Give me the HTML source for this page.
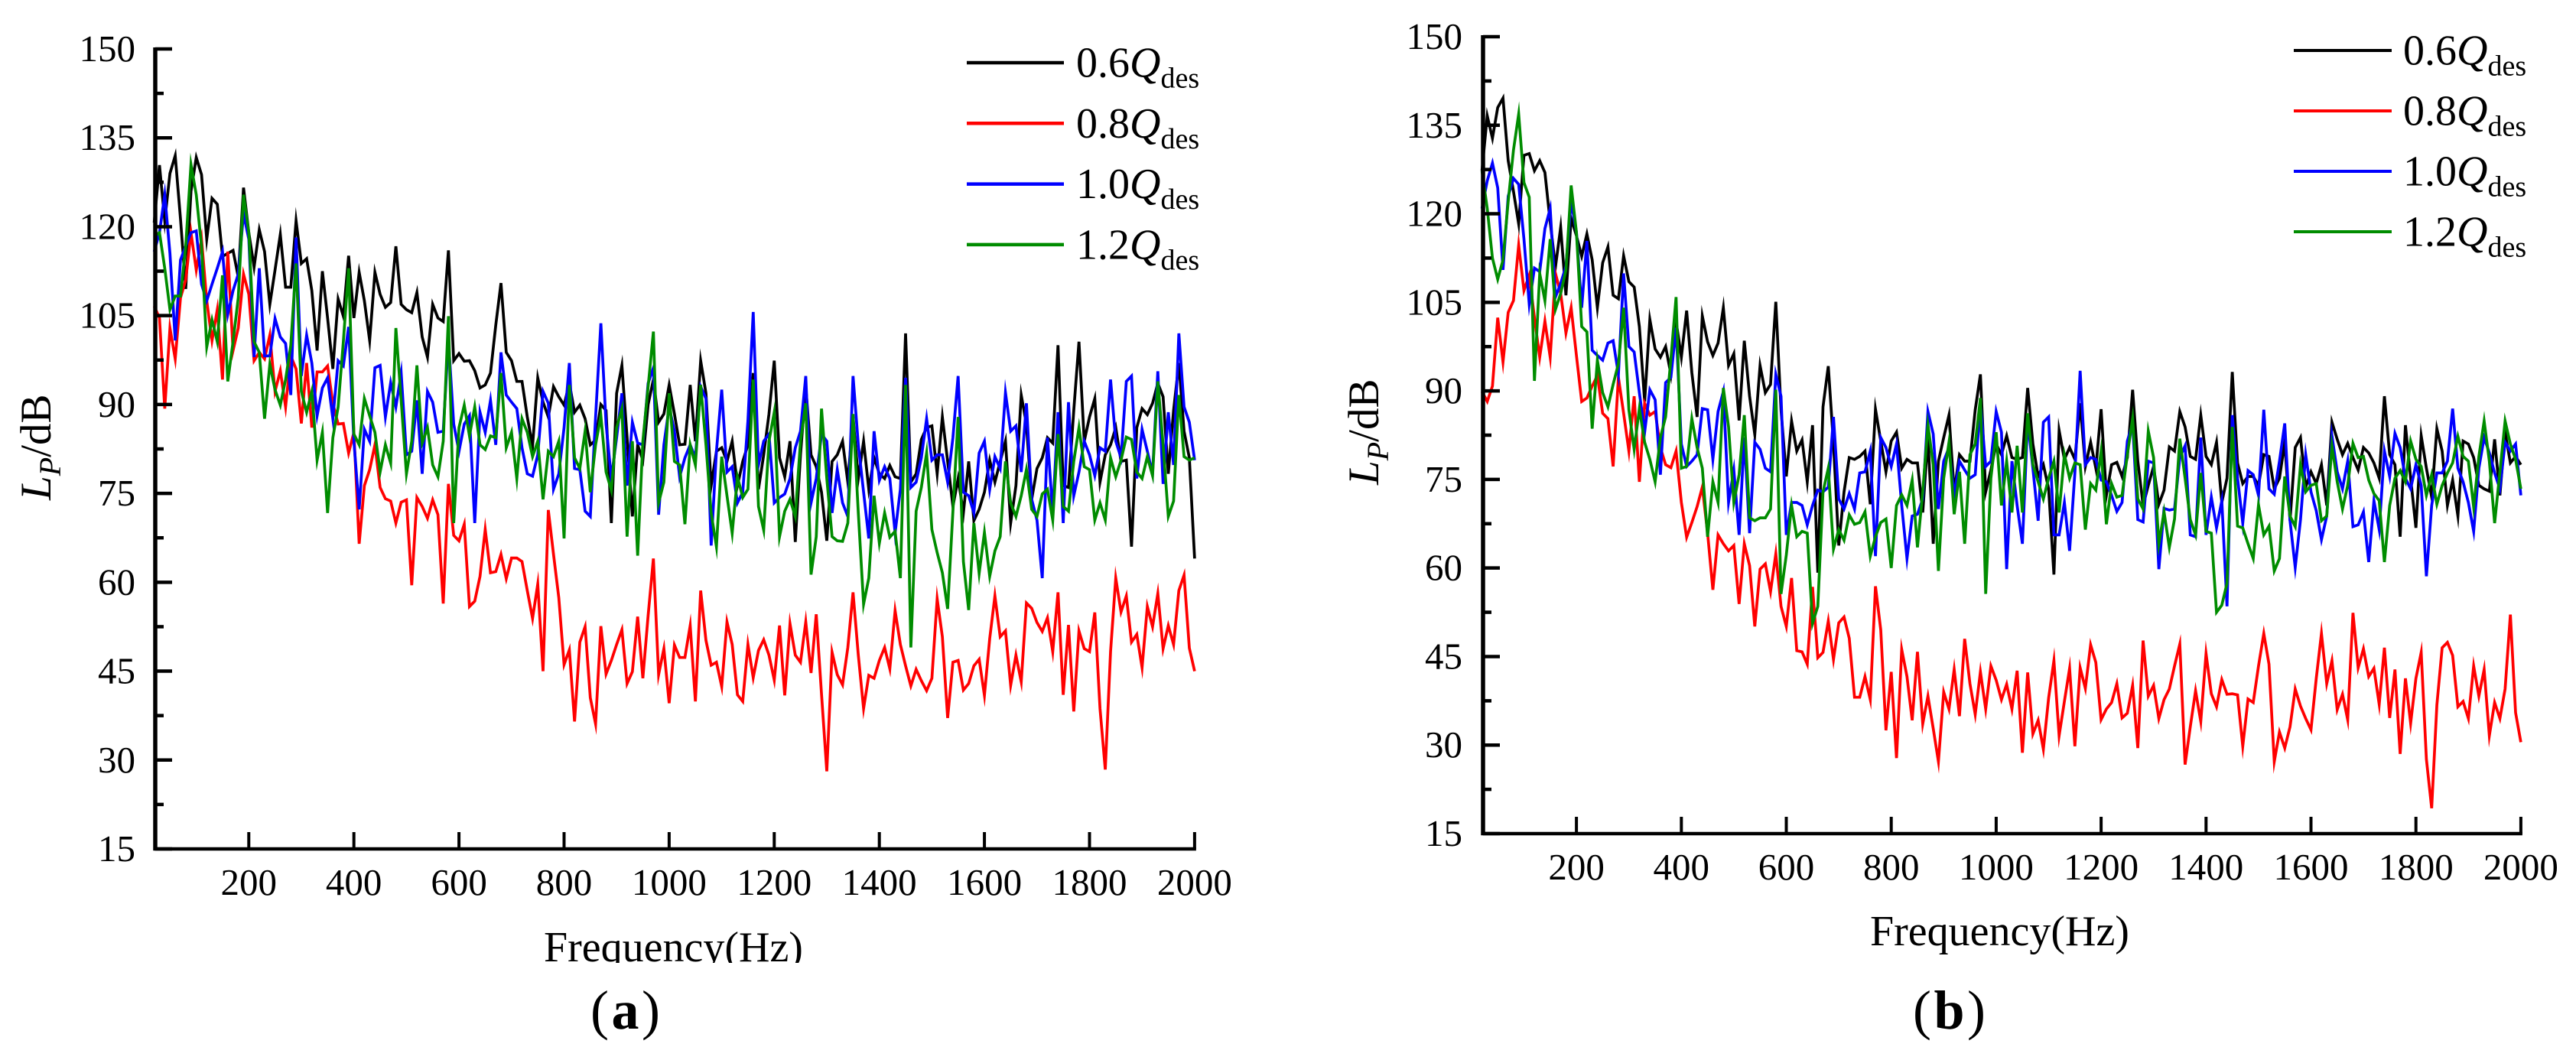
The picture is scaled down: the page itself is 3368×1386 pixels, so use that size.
<!DOCTYPE html>
<html lang="en">
<head>
<meta charset="utf-8">
<title>Sound pressure level spectra</title>
<style>
html,body{margin:0;padding:0;background:#fff;}
#figure{display:block;width:3368px;height:1386px;background:#fff;}
text{font-family:"Liberation Serif",serif;fill:#000;}
</style>
</head>
<body>
<svg id="figure" xmlns="http://www.w3.org/2000/svg" width="3368" height="1386" viewBox="0 0 3368 1386">
<defs><clipPath id="title-clip-a"><rect x="600" y="1190" width="600" height="69"></rect></clipPath></defs>
</svg>
<script>
// Shared axis data
const startFrequency = 20;
const frequencyStep = 10;
const endFrequency = 2000;
const xTickValues = [200,400,600,800,1000,1200,1400,1600,1800,2000];
const yTickValues = [15,30,45,60,75,90,105,120,135,150];
const yMinorTickValues = [22.5,37.5,52.5,67.5,82.5,97.5,112.5,127.5,142.5];
const seriesLabels = ["0.6","0.8","1.0","1.2"];
const seriesNames = ["0-6-qdes","0-8-qdes","1-0-qdes","1-2-qdes"];
const seriesColors = ["#000000","#ff0000","#0000ff","#008c00"];

// Panel (a) sound pressure level in dB
const a06 = [120.7,130.4,121,129,132,121.3,109.5,126,131.7,128.8,117.9,124.8,123.8,115,115.5,116,111.5,126.6,119,113.2,119.5,115.8,106.9,112.7,118.7,109.8,109.8,121,113.8,114.6,109.2,99.1,112.5,104.6,96,107.8,104.9,115.1,104.6,112.3,107.5,100.8,112.3,108.6,106.4,107.2,116.7,106.9,106,105.5,108.9,101.4,98,106.9,104.6,104,116,97.4,98.6,97.3,97.4,95.7,92.8,93.3,95.3,103.4,110.5,98.8,97.4,93.9,93.9,87.9,83,94.5,90.4,87.9,93,91.3,89.9,93.6,88.7,89.9,87.6,83.2,84,90,89,70,91.9,96.6,84.4,71.1,83.2,80.6,90,94.2,87,88.4,93.3,88.4,83.2,83.3,93.3,83.8,97.4,91.9,76.3,82.1,82.7,80.4,83.8,76.3,80.4,83.2,95.3,75.7,81.5,88.4,97.4,81,77.8,83.8,66.8,81.5,93,81.5,79.5,75.2,67,80.4,81.5,83.8,76.9,87.9,77.5,83.8,75.7,81,78.3,77.5,79.7,77.8,77.5,102,76.9,78.3,84.1,86.1,86.4,78.3,87.9,80.4,72.8,77.5,71.7,80.4,70.4,72.3,75.2,80.6,76.9,80.4,83.8,70,76.3,91.6,86.7,74,79.2,81,84.4,83.5,100,76.3,76,89,100.6,83.8,87.9,91,76.9,81.5,83.2,86.1,80.4,80.6,66,86.1,89.3,88.3,90.2,93.6,91.3,78.3,89,97,85.5,81,64];
const a08 = [106.6,104.6,89.3,102.9,97.7,108,111,119,112.7,117.9,107.5,100.8,106,94.2,115.8,99.1,102.9,112,108.6,97.4,98.8,97.7,101.7,92.2,95.7,89.6,98.2,96,86.8,97,86.1,95.5,95.5,96.5,90.2,86.7,86.8,81.8,85.3,66.5,76.3,79,83.2,76,74.1,73.7,70,73.5,73.9,59.5,74.3,72.8,70.8,73.9,71.4,56.4,76.6,67.9,67,69.8,55.9,56.8,61,68.9,61.6,61.8,64.7,60.6,64.1,64.1,63.5,58.6,53.9,59.7,45,72.2,64.7,57.4,46.1,48.6,36.5,49.9,52.5,40.5,36.1,52.6,44.5,46.8,49.5,52,42.9,44.9,54.2,43.8,54.4,64,44.4,48.8,39.6,49.4,47.3,47.3,52.7,39.9,58.6,50.2,46,46.5,42.4,53.3,49.5,41,39.9,49.5,43.9,48.5,50.3,47.7,43.5,52.7,40.9,53,47.7,46.5,53.3,44.7,54.6,41.1,28.1,48.2,44.4,42.7,49,58.3,47.7,38.7,44.3,43.8,46.8,49,45.4,55.2,49.5,45.9,42.5,45.3,43.4,41.7,43.8,57.2,50.8,37.1,46.5,46.8,41.8,42.9,45.9,47,40.9,50.5,57.7,50.8,51.8,42.6,47.7,43.2,56.5,55.6,53.2,51.7,54,48.3,58.3,41,52.8,38.2,51.8,48.8,48.3,54.9,38.7,28.4,48.3,60.7,55,57.7,49.9,51.2,45.6,55.9,52.5,58.1,48.8,52.7,49.5,58.6,61.2,48.9,45];
const a10 = [115.8,119,125.4,115.5,100.8,114.4,116.7,119,119.3,110.3,107.5,110.3,113,115.8,105.2,109.2,112,122.2,117.9,98,113,98.2,98.2,104.5,101.4,100.3,91.6,118.2,94.8,101.7,97,88.1,92.8,94.5,87.6,97.4,96.5,103.1,83.8,72.3,85.8,83.8,96.2,96.6,87.9,93.7,89.6,95.3,81.5,82.1,90.7,78.3,92.2,90.4,85.3,85.5,101,86.7,82.1,86.7,88.1,70,88.7,85.3,90.7,83.2,98.8,91.6,90.4,89.3,82.7,78.3,77.9,81.5,92.2,90.2,75.7,78.3,86.1,97,79.2,79,72,71.1,87.9,103.7,86.7,77.5,84.4,91.9,76.3,87,83.5,83.2,93.6,96.2,71.4,83.2,89.6,85.5,77.8,81,83.2,81,93,91,66.2,82.1,92.5,78.6,79.5,73.4,75.2,87.3,105.6,79.8,83.8,85,73.4,74.3,74.9,77.5,82.7,85.5,94.8,73.4,77.5,85,83.8,71.7,79,73.4,71.1,94.8,83.2,75.2,67.4,85.5,77.2,79.5,77.5,68.3,75.7,94.5,76,76.9,81,87.6,80.6,81.5,81.5,76.9,84.4,94.8,75.2,74.6,71.7,81.8,83.8,75.7,81.2,79.2,92,85.5,86.4,78.6,90.2,74,70.5,60.7,84.4,71.7,88.7,70,90.4,74.6,78.6,83.8,81.5,78,82.7,82.1,94.2,83.8,81,93.9,94.8,77.5,85.8,82.1,78.3,95.6,76.6,88.7,79.8,102,89.6,87,80.6];
const a12 = [118.4,119,113,106,108.3,108.3,116.7,130.5,125.4,116.7,99.7,104.3,100.6,111.8,93.9,100.6,108,125.4,119,100.6,98.8,87.6,96.8,92.5,89.9,94.2,100,113.8,92.2,88.7,92.2,80.6,85.3,71.7,84.4,89.6,100.6,113,85,83.2,91,88.1,85.3,78.6,83.2,80.1,102.9,90.7,78.3,83.8,96.6,83.5,86.1,79.8,77.8,83.8,104.9,70,86.1,89.9,84.7,89.6,83.2,82.4,84.7,84.4,95.3,82.7,85.3,77.5,87.6,85.3,81.2,83.8,74,82.1,81.2,83.8,67.4,93.3,81,79.2,85.5,75.2,83.2,88.1,78.6,75.5,86.1,89.3,67.7,83.8,64.5,83.8,93,102.3,73.4,76.9,91.9,80.4,79.8,69.8,83.2,79.8,93.3,83.2,71.7,66,81.2,74.6,68.3,77.8,74.3,75.7,94.2,72.8,68.8,83.8,88.7,67.7,72,74,71.1,83.8,90.2,61.3,67.7,89.3,77.5,67.7,67,66.9,70,88.4,71.7,56.3,60.7,74.6,66.6,71.7,67.6,68.6,60.7,93.3,49,72,76,81.8,68.9,65,61.6,55.5,72,87.9,63.5,55.3,70,61.5,68.4,61,65.3,67.7,80.4,73.4,71.1,74.6,79,72.3,71.1,74.9,75.7,70.5,85,72.8,72,80.4,86.1,79.5,79,70.5,73.4,70.5,81,77.8,80.6,84.5,84.1,78.6,77.5,81.2,78,93.9,83.2,71.1,73.7,91.6,81.2,80.6,81];

// Panel (b) sound pressure level in dB
const b06 = [127.3,136.6,132.8,138,139.6,129,123.8,118.3,129.9,130.2,127.3,129,127,118.6,111,117.7,106.2,119.2,116.3,112.8,116.6,112.2,104.1,111.7,114.4,106.2,105.6,112.9,108.5,107.6,100.9,88.2,102.1,97.1,95.7,97.5,92.8,101.8,95.7,103.6,93.1,85.6,102.7,98.3,96,98.1,104.1,94.3,96.3,85,98.5,89.1,82.6,94.3,89.7,91.1,105.1,86.8,75.5,84.9,79.8,81.7,74.6,84.2,59.2,87.3,94.2,81,63.8,72.9,78.7,78.4,78.9,79.8,70.8,86.9,81.5,76.3,81.5,83,76.9,78.4,77.8,77.8,69.4,82.1,64.1,78.1,82.1,85.9,72.9,79.2,78.1,78.1,86.8,92.8,72.9,76.6,81,79.2,82.4,78.7,78.4,78.7,90.5,81,75.5,77.5,73.4,58.9,83.3,78.4,80.4,78.4,87.9,77.2,81.3,76.9,86.9,72.3,77.5,77.9,75.5,78.7,90.2,78.1,70.6,74,77.2,70.8,73.2,80.5,79.8,86.5,83.9,78.9,78.4,85.9,78.9,77.5,81.3,71.1,75.2,93.2,77.8,74.3,75.5,75.5,74,79.2,78.9,73.4,75.2,81.3,68,80.4,82.1,73.7,76.3,74.3,77.5,70.6,84.7,81.8,79.2,81.1,78.7,76.6,80.4,79.5,77.8,75.2,89.1,79.2,77.5,65.3,84.2,75.2,66.8,82.4,76.9,72,83.6,79.8,70.6,74.9,68.8,81.5,81,78.7,74,73.4,73,81.8,72.3,83,77.8,78.9,77.5];
const b08 = [89.9,88.2,90.8,102.4,94.9,103.3,105.3,114.7,107,109.6,102.4,95.7,101.8,95.7,109.9,106.5,99.8,104.1,96,88.2,88.8,90.8,92.6,86.2,85.3,77.2,92.3,86.2,79.8,89.1,74.6,87.9,85.9,86.5,80.4,77.5,77,79.8,71.1,65.2,67.7,70.4,73.7,65.9,56.3,65.6,64.1,62.9,63.8,53.9,64.1,60.4,50.1,59.8,60.7,56,62.4,53.5,50.1,58.3,46,45.8,43.7,56.8,44.8,45.7,51,44.5,50.7,51.7,48.1,38.1,38.1,41.6,37.7,56.9,49.5,32.5,42.4,27.8,46.2,41.6,34.2,45.8,33.6,38.3,32.8,27.2,39,36.1,42.8,34.9,48,40.4,35.2,42.4,36.1,43.4,41,37.7,40.3,36.1,42.6,28.7,42.3,31.9,34.2,29.3,38,44.3,31.6,37.4,43,29.8,43.1,39.6,47,44,34.3,36.1,37.2,40.4,34.6,35.4,40.1,29.5,47.7,38.3,40.1,34.5,37.7,39.5,43.4,47.1,26.7,33.1,39.2,34,45.5,38.7,36.5,41.1,38.6,38.7,38.5,29.8,37.8,37.2,43.4,48.9,43.7,27.2,32.2,29.5,33.1,39.5,36.6,34.5,32.6,41.3,48.9,40.4,44.3,36,38.6,34.3,52.4,43.1,46.3,41.6,43,36.9,46.5,34.6,42.8,28.5,41.3,33.7,41.3,45.7,27.6,19.3,36.8,46.5,47.4,45.2,36.5,37.4,34.5,43.4,38.3,42.8,31.6,37.2,34.5,39.5,52.1,35.5,30.5];
const b10 = [120.9,125.6,128.6,124.4,110.5,123,126,125,115.7,104.7,110.8,110.2,117.5,120.9,105.9,108.2,111.1,122.1,116.9,104.1,115.4,96.9,96,95.2,98.1,98.5,92.8,109.9,97.5,96.6,89.7,83,90.2,88.5,75.8,91.4,92.3,100.7,81,77.2,78.1,79.2,87,86.8,78.4,86.5,89.9,71.1,76.6,65.6,82.1,65.9,81.3,80.1,76.9,76.3,92.8,89.1,65.6,71.1,71.1,70.6,67.3,70.6,73.2,72.9,73.7,85.6,71.7,70,72.6,70,76.1,76.3,79.8,62,82.1,80.4,77.2,81,70.6,61.6,68.8,69.1,71.7,86.5,82.7,70,78.1,80.4,72.3,78.1,76.6,75.2,75.8,87.9,77.2,78.1,86.5,83,59.8,78.1,70.6,64.1,85,76.9,68,84.7,85.6,65.6,65.6,71.1,62.9,76.1,93.4,77.5,78.7,78.4,74.9,74.6,72.3,69.6,71.1,81.5,84.5,68.2,67.8,78.1,77.8,59.8,70.1,69.8,70,78.7,80.7,65.6,65.3,82.1,65.6,72,66.8,71.4,53.5,85.9,75.2,67.6,76.5,75.8,72.3,86.8,73.4,72.5,78.1,84.5,68,60.1,68.2,79.2,72.9,69.7,64.8,68.8,82.4,76.3,73.4,78.1,67,67.3,69.5,61,71.4,66.5,79.8,75.5,82.8,80.4,75.2,73.4,77.5,74,58.6,70.6,76.1,76.1,78.1,87,76.9,74.6,71.1,66.2,76.9,82.1,79.5,76.1,73.4,81.3,79.8,81,72.3];
const b12 = [127.3,120.9,112.5,108.9,112.2,122.1,130.8,136.9,125.3,122.8,91.7,109.9,105.3,115.7,103.8,106.5,110.5,124.8,116.9,100.9,100,83.6,95.2,89.7,87.3,91.1,94.6,104.1,86.8,80.1,87,81.3,78.4,74.6,82.1,85.6,95.4,105.9,76.9,77.2,85.3,80.4,76.9,65.3,74.6,71.1,90.5,83.9,71.1,75.8,85.9,68.5,68,68.5,68.5,70,90.2,55.6,62.2,70.6,65.3,66.2,65.9,50.6,53.5,72.9,76.9,63.2,66.5,64.7,69,67.4,67.7,69.5,62,65.3,67.7,68.3,60,70.6,72.4,70.6,74.9,63.5,72.9,84.2,77.5,59.5,75.2,81.3,69.1,76.3,64.1,79.2,81,88.8,55.6,75.2,83,70.6,78.1,69.4,80.7,69.4,86.2,77.5,74.6,71.7,75.2,78.1,69.4,79.2,75.2,77.8,77.5,66.5,74.3,73.2,79.8,67.4,74.3,72,72.3,79.2,85.3,71.7,70,83.2,78.7,64.1,69.5,63.5,68.3,81.9,75.2,68.2,65.6,76.1,66.2,65.9,52.5,53.7,57.4,83.9,67.1,66.8,64.1,61.6,70.7,65.6,67.1,59.5,61.6,75.5,68.8,67,77.5,72.9,74,74.3,68,68.8,80.7,74.6,70,74,81.1,78.7,78.9,74.9,72.6,71.4,61,70.6,75.2,76.5,74.6,81.5,78.4,77.2,72.3,75.8,70.8,74,76.1,77.8,82.3,78.9,78.1,70.3,78.9,84.9,78.1,67.6,76.3,84.9,81,78.4,73.4];

const SVG_NS = "http://www.w3.org/2000/svg";
const figure = document.getElementById("figure");

function makeNode(tag, attrs, parent) {
  const node = document.createElementNS(SVG_NS, tag);
  for (const key in attrs) node.setAttribute(key, attrs[key]);
  parent.appendChild(node);
  return node;
}
function addSpan(parent, content, attrs) {
  const span = makeNode("tspan", attrs, parent);
  span.textContent = content;
  return span;
}

function drawPanel(panel) {
  const group = makeNode("g", {}, figure);
  
  

  const xScale = f => panel.left + (f - panel.xAt) * panel.pxPerHz;
  const yScale = v => panel.bottom - (v - 15) * (panel.bottom - panel.top) / 135;

  // series
  [panel.series[0], panel.series[1], panel.series[2], panel.series[3]].forEach((values, s) => {
    const points = values.map((v, i) => xScale(startFrequency + i * frequencyStep).toFixed(1) + "," + yScale(v).toFixed(1)).join(" ");
    const line = makeNode("polyline", {points: points, fill: "none", stroke: seriesColors[s], "stroke-width": 3.7, "stroke-linejoin": "miter", "stroke-miterlimit": 10}, group);
    
    
  });

  // axis lines
  const xEnd = xScale(endFrequency);
  const yAxis = makeNode("line", {x1: panel.left, x2: panel.left, y1: panel.top - 2, y2: panel.bottom + 2, stroke: "#000", "stroke-width": 5.5}, group);
  
  
  const xAxis = makeNode("line", {x1: panel.left - 2.5, x2: xEnd + 2, y1: panel.bottom, y2: panel.bottom, stroke: "#000", "stroke-width": 4.5}, group);
  
  

  // y ticks and labels
  yTickValues.forEach(v => {
    const tick = makeNode("line", {x1: panel.left, x2: panel.left + 22, y1: yScale(v), y2: yScale(v), stroke: "#000", "stroke-width": 4.5}, group);
    
    
    const label = makeNode("text", {x: panel.yLabelRight, y: yScale(v) + 16, "text-anchor": "end", "font-size": 49}, group);
    label.textContent = String(v);
    
    
  });
  yMinorTickValues.forEach(v => {
    const tick = makeNode("line", {x1: panel.left, x2: panel.left + 11, y1: yScale(v), y2: yScale(v), stroke: "#000", "stroke-width": 4.5}, group);
    
    
  });

  // x ticks and labels
  xTickValues.forEach(f => {
    const tick = makeNode("line", {x1: xScale(f), x2: xScale(f), y1: panel.bottom, y2: panel.bottom - 22, stroke: "#000", "stroke-width": 4}, group);
    
    
    const label = makeNode("text", {x: xScale(f), y: panel.xLabelBaseline, "text-anchor": "middle", "font-size": 49}, group);
    label.textContent = String(f);
    
    
  });

  // axis titles
  const xTitleAttrs = {x: panel.xTitleX, y: panel.xTitleBaseline, "font-size": 56};
  if (panel.clipTitle) xTitleAttrs["clip-path"] = "url(#title-clip-a)";
  const xTitle = makeNode("text", xTitleAttrs, group);
  xTitle.textContent = "Frequency(Hz)";
  
  

  const yTitle = makeNode("text", {transform: "translate(" + panel.yTitleX + "," + panel.yTitleY + ") rotate(-90)", "font-size": 57}, group);
  
  
  addSpan(yTitle, "L", {"font-style": "italic"});
  addSpan(yTitle, "P", {"font-style": "italic", "font-size": 40, dy: 13});
  addSpan(yTitle, "/dB", {dy: -13});

  // legend
  seriesLabels.forEach((lab, s) => {
    const entry = makeNode("g", {}, group);
    
    
    const ly = panel.legendY + s * panel.legendGap;
    const swatch = makeNode("line", {x1: panel.legendX1, x2: panel.legendX2, y1: ly, y2: ly, stroke: seriesColors[s], "stroke-width": panel.legendStroke}, entry);
    
    
    const text = makeNode("text", {x: panel.legendTextX, y: ly + 18.5, "font-size": 56}, entry);
    
    
    addSpan(text, lab, {});
    addSpan(text, "Q", {"font-style": "italic"});
    addSpan(text, "des", {"font-size": 38, dy: 14});
  });

  // sub-figure caption
  const caption = makeNode("text", {x: panel.captionX, y: 1345, "font-size": 72, "letter-spacing": 3.5}, group);
  
  
  addSpan(caption, "(", {});
  addSpan(caption, panel.id, {"font-weight": "bold"});
  addSpan(caption, ")", {});
}

drawPanel({
  id: "a", series: [a06, a08, a10, a12],
  left: 203, xAt: 22, pxPerHz: 0.687, top: 64, bottom: 1110,
  yLabelRight: 177, xLabelBaseline: 1170,
  xTitleX: 711, xTitleBaseline: 1257, clipTitle: true,
  yTitleX: 66, yTitleY: 654,
  legendX1: 1264, legendX2: 1391, legendY: 82, legendGap: 79.3, legendStroke: 4.5, legendTextX: 1407,
  captionX: 772
});
drawPanel({
  id: "b", series: [b06, b08, b10, b12],
  left: 1939, xAt: 22, pxPerHz: 0.686, top: 48, bottom: 1090,
  yLabelRight: 1912, xLabelBaseline: 1150,
  xTitleX: 2445, xTitleBaseline: 1236, clipTitle: false,
  yTitleX: 1802, yTitleY: 634,
  legendX1: 2999, legendX2: 3127, legendY: 66, legendGap: 79, legendStroke: 4, legendTextX: 3142,
  captionX: 2501
});
</script>
</body>
</html>
